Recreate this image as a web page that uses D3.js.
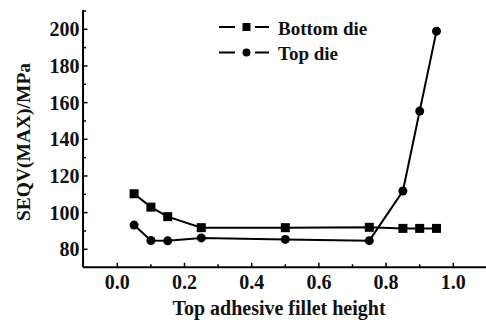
<!DOCTYPE html>
<html><head><meta charset="utf-8">
<script src="https://cdn.jsdelivr.net/npm/d3@7"></script>
<style>html,body{margin:0;padding:0;background:#fff;}svg{display:block;}</style>
</head><body>
<svg id="c" width="486" height="324"></svg>
<script>
const xValues = [0.05, 0.1, 0.15, 0.25, 0.5, 0.75, 0.85, 0.9, 0.95];
const bottomDie = [110.3, 103, 97.8, 91.8, 91.8, 92, 91.4, 91.4, 91.4];
const topDie = [93.2, 84.8, 84.6, 86.2, 85.4, 84.7, 111.8, 155.4, 199];
const xTicks = [0.0, 0.2, 0.4, 0.6, 0.8, 1.0];
const yTicks = [80, 100, 120, 140, 160, 180, 200];
const seriesNames = ["Bottom die", "Top die"];

const FONT = "Liberation Serif";
const svg = d3.select("#c");
const x = d3.scaleLinear().domain([0, 1]).range([117.3, 453.3]);
const y = d3.scaleLinear().domain([80, 200]).range([249.3, 29.3]);
const x0 = x(-0.102), x1 = 486;
const y0 = y(70.2), yTop = y(210.5);

function txt(sel) { return sel.attr("font-family", FONT).attr("font-weight", "bold").attr("fill", "#111"); }

const g = svg.append("g");
g.append("line").attr("x1", x0).attr("x2", x1).attr("y1", y0).attr("y2", y0)
  .attr("stroke", "#000").attr("stroke-width", 2);
g.append("line").attr("x1", x0).attr("x2", x0).attr("y1", y0).attr("y2", yTop)
  .attr("stroke", "#000").attr("stroke-width", 2);

const xMinor = d3.range(-0.1, 1.11, 0.1).map(v => +v.toFixed(2)).filter(v => x(v) > x0 + 2 && x(v) < x1);
g.selectAll(".xt").data(xMinor).enter().append("line")
  .attr("x1", d => x(d)).attr("x2", d => x(d))
  .attr("y1", y0).attr("y2", d => xTicks.some(t => Math.abs(t - d) < 1e-6) ? y0 - 4.5 : y0 - 3)
  .attr("stroke", "#000").attr("stroke-width", 1.5);
txt(g.selectAll(".xl").data(xTicks).enter().append("text"))
  .attr("x", d => x(d)).attr("y", y0 + 21.5)
  .attr("text-anchor", "middle").attr("font-size", 20).text(d => d.toFixed(1));

const yMinor = d3.range(70, 211, 10).filter(v => y(v) < y0 - 2);
g.selectAll(".yt").data(yMinor).enter().append("line")
  .attr("y1", d => y(d)).attr("y2", d => y(d))
  .attr("x1", x0).attr("x2", d => yTicks.includes(d) ? x0 + 4.5 : x0 + 3)
  .attr("stroke", "#000").attr("stroke-width", 1.5);
txt(g.selectAll(".yl").data(yTicks).enter().append("text"))
  .attr("x", x0 - 3.5).attr("y", d => y(d) + 7)
  .attr("text-anchor", "end").attr("font-size", 20).text(d => d);

txt(g.append("text")).attr("transform", `translate(30,142) rotate(-90)`)
  .attr("text-anchor", "middle").attr("font-size", 19.5).text("SEQV(MAX)/MPa");
txt(g.append("text")).attr("x", 279).attr("y", 315)
  .attr("text-anchor", "middle").attr("font-size", 20).text("Top adhesive fillet height");

const line = d3.line().x(d => x(d[0])).y(d => y(d[1]));
const bData = xValues.map((v, i) => [v, bottomDie[i]]);
const tData = xValues.map((v, i) => [v, topDie[i]]);
g.append("path").attr("d", line(bData)).attr("fill", "none").attr("stroke", "#000").attr("stroke-width", 2);
g.append("path").attr("d", line(tData)).attr("fill", "none").attr("stroke", "#000").attr("stroke-width", 2);
g.selectAll(".sq").data(bData).enter().append("rect")
  .attr("x", d => x(d[0]) - 4.5).attr("y", d => y(d[1]) - 4.5)
  .attr("width", 9).attr("height", 9).attr("fill", "#000");
g.selectAll(".ci").data(tData).enter().append("circle")
  .attr("cx", d => x(d[0])).attr("cy", d => y(d[1])).attr("r", 4.5).attr("fill", "#000");

const legY = [27, 52.5];
seriesNames.forEach((name, i) => {
  const ly = legY[i];
  g.append("line").attr("x1", 219).attr("x2", 235).attr("y1", ly).attr("y2", ly).attr("stroke", "#000").attr("stroke-width", 2);
  g.append("line").attr("x1", 255).attr("x2", 269).attr("y1", ly).attr("y2", ly).attr("stroke", "#000").attr("stroke-width", 2);
  if (i === 0) g.append("rect").attr("x", 242.5).attr("y", ly - 4).attr("width", 8).attr("height", 8).attr("fill", "#000");
  else g.append("circle").attr("cx", 246.5).attr("cy", ly).attr("r", 4).attr("fill", "#000");
  txt(g.append("text")).attr("x", 278).attr("y", ly + 7.5).attr("font-size", 19).text(name);
});
</script>
</body></html>
